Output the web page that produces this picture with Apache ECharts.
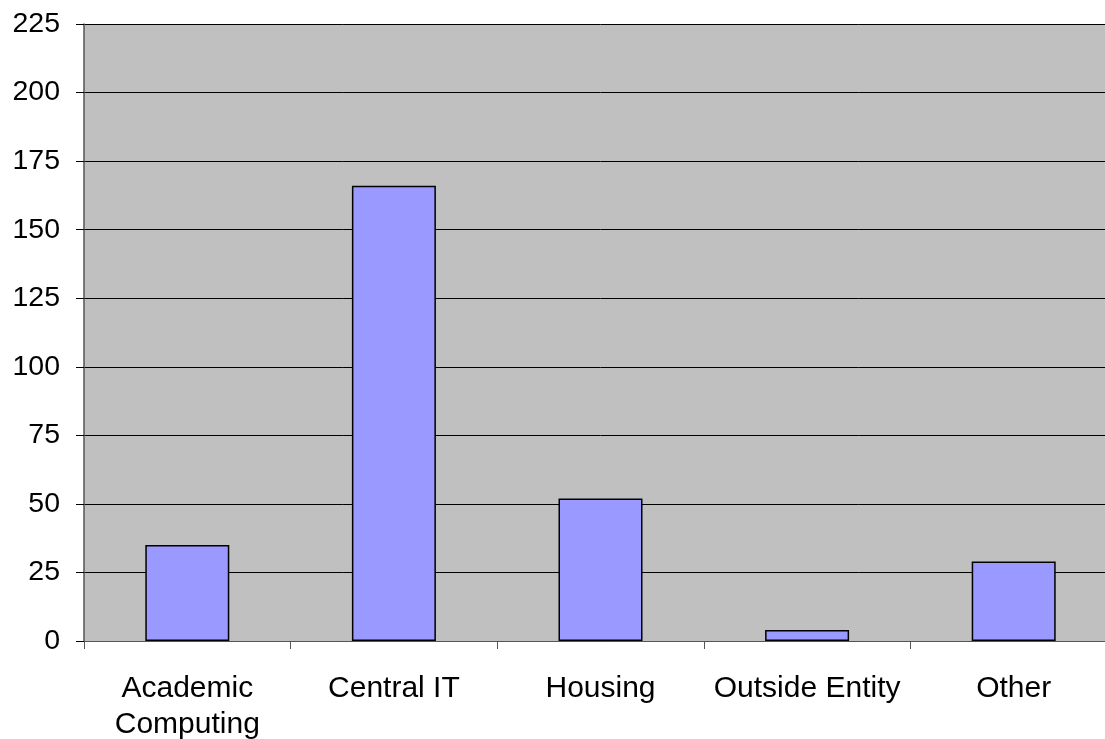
<!DOCTYPE html>
<html>
<head>
<meta charset="utf-8">
<script src="https://cdn.jsdelivr.net/npm/echarts@6/dist/echarts.min.js"></script>
<style>html,body{margin:0;padding:0;background:#fff;overflow:hidden;}#c{width:1130px;height:739px;}</style>
</head>
<body>
<div id="c"></div>
<script>
var categories = ['Academic\nComputing', 'Central IT', 'Housing', 'Outside Entity', 'Other'];
var values = [35, 166, 52, 4, 29];
var yMin = 0, yMax = 225, yStep = 25;

var chart = echarts.init(document.getElementById('c'), null, {renderer: 'canvas'});
chart.setOption({
  animation: false,
  grid: {left: 84, top: 24, width: 1033, height: 617, containLabel: false, outerBoundsMode: 'none',
         show: true, backgroundColor: '#C0C0C0', borderWidth: 0},
  xAxis: {
    type: 'category', data: categories,
    axisLine: {show: true, lineStyle: {color: '#555', width: 1}},
    axisTick: {show: true, length: 8, alignWithLabel: false, lineStyle: {color: '#555'}},
    axisLabel: {fontFamily: 'Liberation Sans', fontSize: 30, color: '#000', margin: 30, lineHeight: 36, interval: 0}
  },
  yAxis: {
    type: 'value', min: yMin, max: yMax, interval: yStep,
    axisLine: {show: true, lineStyle: {color: '#555', width: 1.5}},
    axisTick: {show: true, length: 8, inside: false, lineStyle: {color: '#000'}},
    axisLabel: {fontFamily: 'Liberation Sans', fontSize: 28.5, color: '#000', margin: 24},
    splitLine: {show: true, lineStyle: {color: '#000', width: 1}}
  },
  series: [{
    type: 'bar', data: values, barWidth: 84,
    itemStyle: {color: '#9999FF', borderColor: '#000', borderWidth: 1.5}
  }]
});
</script>
</body>
</html>
